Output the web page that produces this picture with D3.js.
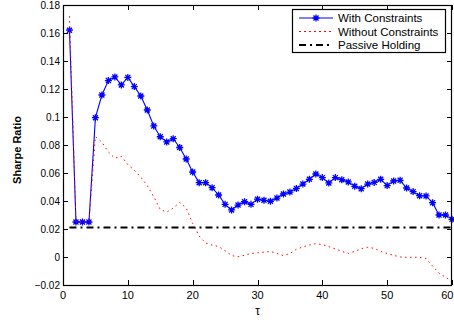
<!DOCTYPE html>
<html>
<head>
<meta charset="utf-8">
<script src="https://cdn.jsdelivr.net/npm/d3@7/dist/d3.min.js"></script>
<style>
html,body{margin:0;padding:0;background:#fff;}
svg{display:block;}
text{font-family:"Liberation Sans",Arial,Helvetica,sans-serif;}
</style>
</head>
<body>
<svg id="chart" width="454" height="320"></svg>
<script>
const tau = [1,2,3,4,5,6,7,8,9,10,11,12,13,14,15,16,17,18,19,20,21,22,23,24,25,26,27,28,29,30,
  31,32,33,34,35,36,37,38,39,40,41,42,43,44,45,46,47,48,49,50,51,52,53,54,55,56,57,58,59,60];
const withConstraints = [0.162,0.025,0.025,0.025,0.0995,0.1157,0.126,0.1286,0.1229,0.1283,
  0.1217,0.115,0.105,0.0936,0.0859,0.0822,0.0845,0.0782,0.070,0.0607,
  0.0531,0.0531,0.0495,0.0443,0.0376,0.0336,0.0371,0.0395,0.0376,0.0413,
  0.0405,0.0398,0.0421,0.045,0.0464,0.049,0.0521,0.0555,0.0593,0.0567,
  0.0529,0.0567,0.0552,0.0536,0.0505,0.0488,0.0521,0.0533,0.0555,0.051,
  0.0543,0.0548,0.0493,0.0467,0.0438,0.0436,0.0388,0.030,0.030,0.0269];
const withoutConstraints = [0.172,0.025,0.025,0.025,0.086,0.082,0.075,0.0705,0.072,0.066,
  0.062,0.057,0.051,0.043,0.034,0.032,0.035,0.039,0.035,0.024,
  0.015,0.010,0.0085,0.0075,0.0045,0.001,0.0002,0.0012,0.0025,0.003,
  0.0034,0.004,0.0025,0.001,0.0025,0.0055,0.0072,0.0086,0.0095,0.0088,
  0.0074,0.0058,0.004,0.0026,0.004,0.006,0.0069,0.0062,0.004,0.0025,
  0.0012,0.0,-0.0002,-0.0002,-0.0002,-0.001,-0.0065,-0.0115,-0.0145,-0.017];
const passiveHolding = [0.021,0.021];
const passiveTau = [1,60];
const xTicks = [0,10,20,30,40,50,60];
const yTicks = [-0.02,0,0.02,0.04,0.06,0.08,0.1,0.12,0.14,0.16,0.18];
const legendLabels = ["With Constraints","Without Constraints","Passive Holding"];

const svg = d3.select("#chart");
const W = 454;
const L = 63, R = 452, T = 5, B = 285;
const x = d3.scaleLinear().domain([0,60]).range([L,R]);
const y = d3.scaleLinear().domain([-0.02,0.18]).range([B,T]);

const fmtY = v => v === 0 ? "0" : d3.format(".2~f")(v).replace("-", "\u22120");

// axes: ticks inward on all four sides
const tickLen = 5;
const gx = svg.append("g");
xTicks.forEach(t => {
  const xp = Math.round(x(t)) + 0.5;
  gx.append("line").attr("x1",xp).attr("x2",xp).attr("y1",B).attr("y2",B-tickLen).attr("stroke","#000");
  gx.append("line").attr("x1",xp).attr("x2",xp).attr("y1",T).attr("y2",T+tickLen).attr("stroke","#000");
  const lbl = gx.append("text").attr("x",x(t)).attr("y",299).attr("text-anchor","middle")
    .attr("font-size","11px").text(t);
  const bb = lbl.node().getBBox();
  if (bb.x + bb.width > W - 0.5) lbl.attr("x", x(t) - (bb.x + bb.width - (W - 0.5)));
});
const gy = svg.append("g");
yTicks.forEach(t => {
  const yp = Math.round(y(t)) + 0.5;
  gy.append("line").attr("x1",L).attr("x2",L+tickLen).attr("y1",yp).attr("y2",yp).attr("stroke","#000");
  gy.append("line").attr("x1",R).attr("x2",R-tickLen).attr("y1",yp).attr("y2",yp).attr("stroke","#000");
  gy.append("text").attr("x",L-3).attr("y",y(t)+3.5).attr("text-anchor","end")
    .attr("font-size","10px").text(fmtY(t));
});

// series
const line = d3.line().x(d => x(d[0])).y(d => y(d[1]));
const withData = tau.map((t,i) => [t, withConstraints[i]]);
const withoutData = tau.map((t,i) => [t, withoutConstraints[i]]);
const passiveData = passiveTau.map((t,i) => [t, passiveHolding[i]]);

svg.append("path").datum(withData).attr("d",line)
  .attr("fill","none").attr("stroke","#0000ff").attr("stroke-width",1.1);

function asterisk(g, cx, cy, s) {
  const d = s*0.72;
  const p = `M${cx-s},${cy}L${cx+s},${cy}M${cx},${cy-s}L${cx},${cy+s}` +
            `M${cx-d},${cy-d}L${cx+d},${cy+d}M${cx-d},${cy+d}L${cx+d},${cy-d}`;
  g.append("path").attr("d",p).attr("stroke","#0000ff").attr("stroke-width",1.3).attr("fill","none");
}
const gm = svg.append("g");
withData.forEach(d => asterisk(gm, x(d[0]), y(d[1]), 3.5));

svg.append("path").datum(withoutData).attr("d",line)
  .attr("fill","none").attr("stroke","#ff0000").attr("stroke-width",1)
  .attr("stroke-dasharray","1.5,3.5");

svg.append("path").datum(passiveData).attr("d",line)
  .attr("fill","none").attr("stroke","#000").attr("stroke-width",2)
  .attr("stroke-dasharray","7,4,2,4");

// box
svg.append("rect").attr("x",L+0.5).attr("y",T+0.5).attr("width",R-L-1).attr("height",B-T)
  .attr("fill","none").attr("stroke","#000").attr("stroke-width",1.2);

// axis labels
svg.append("text").attr("x",x(30)).attr("y",315).attr("text-anchor","middle")
  .attr("font-size","12px").text("\u03c4");
svg.append("text").attr("transform","translate(21,150) rotate(-90)").attr("text-anchor","middle")
  .attr("font-size","11px").attr("font-weight","bold").text("Sharpe Ratio");

// legend
const lg = svg.append("g");
lg.append("rect").attr("x",292.5).attr("y",9.5).attr("width",153).attr("height",43)
  .attr("fill","#fff").attr("stroke","#000").attr("stroke-width",1.2);
const rowsY = [18, 31.5, 45];
lg.append("line").attr("x1",299).attr("x2",333).attr("y1",rowsY[0]).attr("y2",rowsY[0])
  .attr("stroke","#0000ff").attr("stroke-width",1.1);
asterisk(lg, 316, rowsY[0], 3.5);
lg.append("line").attr("x1",299).attr("x2",333).attr("y1",rowsY[1]).attr("y2",rowsY[1])
  .attr("stroke","#ff0000").attr("stroke-width",1).attr("stroke-dasharray","2,3");
lg.append("line").attr("x1",299).attr("x2",333).attr("y1",rowsY[2]).attr("y2",rowsY[2])
  .attr("stroke","#000").attr("stroke-width",2).attr("stroke-dasharray","7,4,2,4");
legendLabels.forEach((s,i) => {
  lg.append("text").attr("x",338).attr("y",rowsY[i]+4).attr("font-size","11.5px").text(s);
});
</script>
</body>
</html>
